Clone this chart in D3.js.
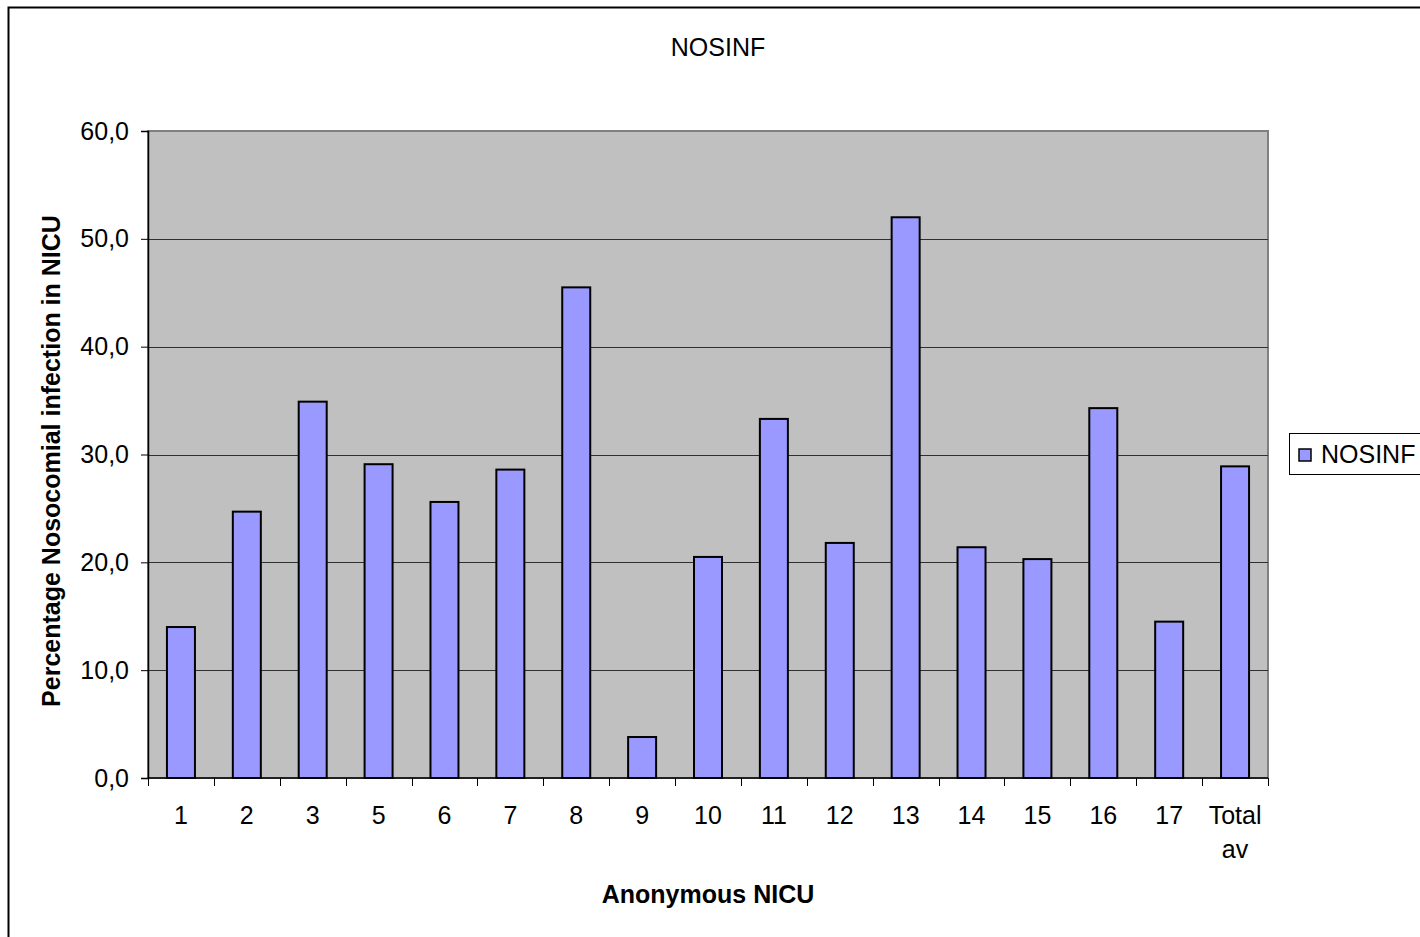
<!DOCTYPE html>
<html>
<head>
<meta charset="utf-8">
<script src="https://cdn.jsdelivr.net/npm/d3@7"></script>
<style>
  html, body { margin: 0; padding: 0; background: #fff; }
  svg { display: block; font-family: "Liberation Sans", Arial, sans-serif; }
</style>
</head>
<body>
<svg id="chart" width="1420" height="937"></svg>
<script>
// NICU identifiers and nosocomial infection percentages
const categories = ["1", "2", "3", "5", "6", "7", "8", "9", "10", "11", "12", "13", "14", "15", "16", "17", "Total av"];
const nosinf = [14.0, 24.7, 34.9, 29.1, 25.6, 28.6, 45.5, 3.8, 20.5, 33.3, 21.8, 52.0, 21.4, 20.3, 34.3, 14.5, 28.9];
const yTicks = [0, 10, 20, 30, 40, 50, 60];
const seriesName = "NOSINF";

const svg = d3.select("#chart");
const W = 1420, H = 937;
const plot = { left: 148, right: 1268, top: 131, bottom: 778 };
const FS = 25;

// outer chart frame
svg.append("rect")
  .attr("x", 8.5).attr("y", 7.5)
  .attr("width", W).attr("height", H)
  .attr("fill", "#fff").attr("stroke", "#000").attr("stroke-width", 2);

const x = d3.scaleBand().domain(categories).range([plot.left, plot.right]).paddingInner(0).paddingOuter(0);
const y = d3.scaleLinear().domain([0, 60]).range([plot.bottom, plot.top]);

// plot area background
svg.append("rect")
  .attr("x", plot.left).attr("y", plot.top)
  .attr("width", plot.right - plot.left).attr("height", plot.bottom - plot.top)
  .attr("fill", "#c0c0c0")
  .attr("stroke", "#808080").attr("stroke-width", 2);

// horizontal gridlines
svg.append("g").selectAll("line")
  .data(yTicks.filter(d => d > 0 && d < 60))
  .join("line")
  .attr("x1", plot.left).attr("x2", plot.right)
  .attr("y1", d => Math.round(y(d)) + 0.5).attr("y2", d => Math.round(y(d)) + 0.5)
  .attr("stroke", "#303030").attr("stroke-width", 1);

// bars
const barW = 28;
svg.append("g").selectAll("rect")
  .data(nosinf)
  .join("rect")
  .attr("x", (d, i) => x(categories[i]) + x.bandwidth() / 2 - barW / 2)
  .attr("y", d => y(d))
  .attr("width", barW)
  .attr("height", d => y(0) - y(d))
  .attr("fill", "#9999ff")
  .attr("stroke", "#000").attr("stroke-width", 2);

// y axis
const yAxis = d3.axisLeft(y).tickValues(yTicks).tickSize(7).tickPadding(12)
  .tickFormat(d => d3.format(".1f")(d).replace(".", ","));
const gy = svg.append("g").attr("transform", `translate(${plot.left},0)`).call(yAxis);
gy.select(".domain").attr("stroke", "#000").attr("stroke-width", 1.5);
gy.selectAll(".tick line").attr("stroke", "#000");
gy.selectAll(".tick text").attr("font-size", FS).attr("fill", "#000")
  .attr("font-family", "Liberation Sans, Arial, sans-serif");

// x axis: ticks at category boundaries
const gx = svg.append("g");
gx.append("line")
  .attr("x1", plot.left).attr("x2", plot.right)
  .attr("y1", plot.bottom).attr("y2", plot.bottom)
  .attr("stroke", "#000").attr("stroke-width", 1.5);
const bounds = categories.map(c => x(c)).concat([plot.right]);
gx.selectAll("line.tk").data(bounds).join("line").attr("class", "tk")
  .attr("x1", d => Math.round(d) + 0.5).attr("x2", d => Math.round(d) + 0.5)
  .attr("y1", plot.bottom).attr("y2", plot.bottom + 8)
  .attr("stroke", "#000");
gx.selectAll("text").data(categories).join("text")
  .attr("x", d => x(d) + x.bandwidth() / 2)
  .attr("y", plot.bottom + 46)
  .attr("text-anchor", "middle")
  .attr("font-size", FS).attr("fill", "#000")
  .each(function(d) {
    const parts = d === "Total av" ? ["Total", "av"] : [d];
    const t = d3.select(this);
    parts.forEach((p, k) => t.append("tspan")
      .attr("x", x(d) + x.bandwidth() / 2)
      .attr("dy", k === 0 ? 0 : 34).text(p));
  });

// title
svg.append("text").attr("x", 718).attr("y", 56).attr("text-anchor", "middle")
  .attr("font-size", FS).attr("fill", "#000").text(seriesName);

// axis titles
svg.append("text").attr("x", 708).attr("y", 903).attr("text-anchor", "middle")
  .attr("font-size", FS).attr("font-weight", "bold").attr("fill", "#000")
  .text("Anonymous NICU");
svg.append("text")
  .attr("transform", "translate(60,461) rotate(-90)")
  .attr("text-anchor", "middle")
  .attr("font-size", FS).attr("font-weight", "bold").attr("fill", "#000")
  .text("Percentage Nosocomial infection in NICU");

// legend
const lg = svg.append("g");
lg.append("rect").attr("x", 1289.5).attr("y", 433.5).attr("width", 140).attr("height", 41)
  .attr("fill", "#fff").attr("stroke", "#000").attr("stroke-width", 1);
lg.append("rect").attr("x", 1299).attr("y", 449).attr("width", 12).attr("height", 12)
  .attr("fill", "#9999ff").attr("stroke", "#000").attr("stroke-width", 1.5);
lg.append("text").attr("x", 1321).attr("y", 463).attr("font-size", FS).attr("fill", "#000")
  .text(seriesName);
</script>
</body>
</html>
